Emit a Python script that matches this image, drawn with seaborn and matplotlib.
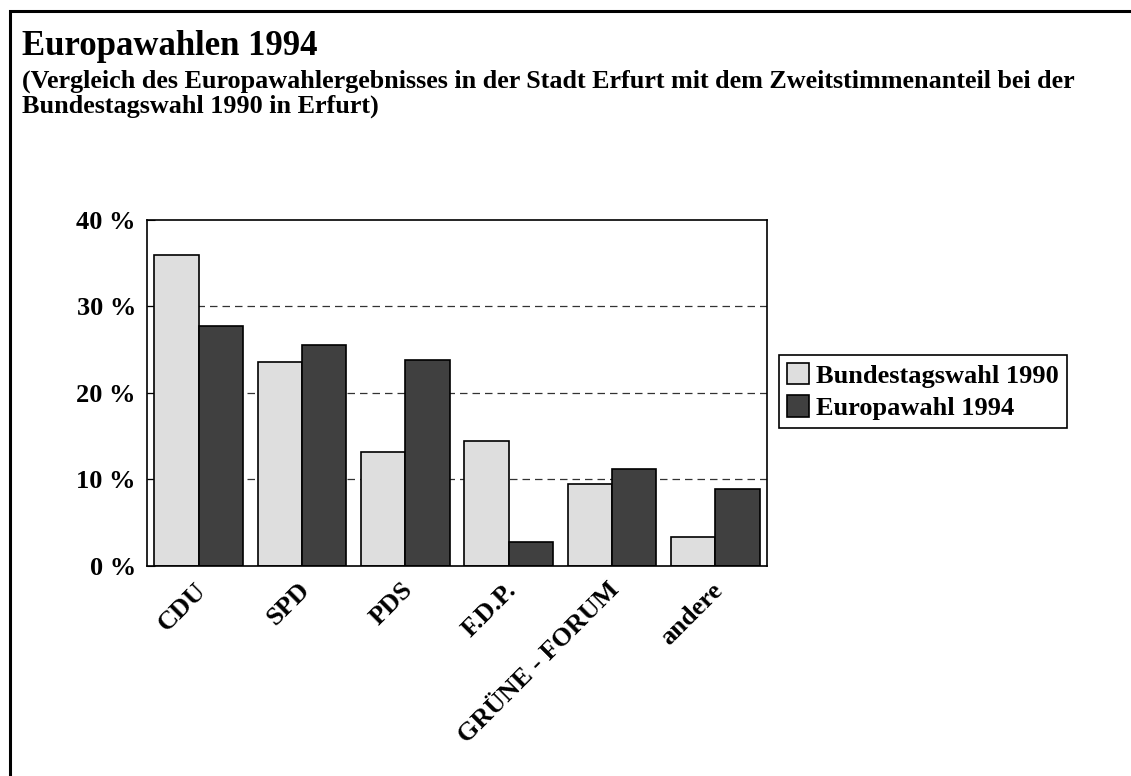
import seaborn as sns
import pandas as pd
import numpy as np
import matplotlib.pyplot as plt
import matplotlib.transforms as mtransforms
from matplotlib.patches import Rectangle

parteien = ["CDU", "SPD", "PDS", "F.D.P.", "GRÜNE - FORUM", "andere"]
bundestagswahl_1990 = [36.0, 23.6, 13.2, 14.4, 9.5, 3.3]
europawahl_1994 = [27.7, 25.6, 23.8, 2.8, 11.2, 8.9]
serien = ["Bundestagswahl 1990", "Europawahl 1994"]
y_ticks = [0, 10, 20, 30, 40]

df = pd.DataFrame({
    "partei": parteien * 2,
    "wert": bundestagswahl_1990 + europawahl_1994,
    "wahl": [serien[0]] * len(parteien) + [serien[1]] * len(parteien),
})

sns.set_style("white")
plt.rcParams['font.family'] = ['Liberation Serif', 'DejaVu Serif']
plt.rcParams['font.weight'] = 'bold'
plt.rcParams['text.color'] = 'black'
plt.rcParams['xtick.color'] = 'black'
plt.rcParams['ytick.color'] = 'black'

fig = plt.figure(figsize=(11.31, 7.76), dpi=100)
ax = fig.add_axes([147 / 1131, 1 - 566 / 776, 620 / 1131, 346 / 776])

farben = {serien[0]: "#dedede", serien[1]: "#404040"}
sns.barplot(data=df, x="partei", y="wert", hue="wahl", palette=farben,
            width=0.86, edgecolor="black", linewidth=1.2, ax=ax, saturation=1)

ax.set_xlim(-0.5, 5.5)
ax.set_ylim(0, 40)
ax.set_yticks(y_ticks)
ax.set_yticklabels([f"{t} %" for t in y_ticks], fontsize=19, fontweight="bold")
ax.tick_params(axis="y", direction="in", length=6, pad=8, left=True)
ax.tick_params(axis="x", length=0, pad=9)
ax.set_xticks(range(len(parteien)))
ax.set_xticklabels(parteien, rotation=45, ha="right", rotation_mode="anchor",
                   fontsize=19, fontweight="bold")
# etwas nach links schieben wie im Original
verschiebung = mtransforms.ScaledTranslation(-4 / 100, 0, fig.dpi_scale_trans)
for lbl in ax.get_xticklabels():
    lbl.set_transform(lbl.get_transform() + verschiebung)
ax.set_xlabel("")
ax.set_ylabel("")
for y in [10, 20, 30]:
    ax.axhline(y, color="#333333", linestyle=(0, (6, 4)), linewidth=0.9, zorder=0)
for s in ax.spines.values():
    s.set_visible(True)
    s.set_color("black")
    s.set_linewidth(1.2)

handles, labels = ax.get_legend_handles_labels()
ax.legend(handles, labels, loc="upper left", bbox_to_anchor=(779 / 1131, 1 - 355 / 776),
          bbox_transform=fig.transFigure, frameon=True, fancybox=False,
          edgecolor="black", framealpha=1, handlelength=0.85, handleheight=0.85,
          handletextpad=0.25, borderpad=0.3, labelspacing=0.3, borderaxespad=0,
          prop={"weight": "bold", "size": 19})
ax.get_legend().get_frame().set_linewidth(1.2)

fig.text(22 / 1131, 1 - 55 / 776, "Europawahlen 1994", fontsize=25, fontweight="bold",
         va="baseline")
fig.text(22 / 1131, 1 - 88 / 776,
         "(Vergleich des Europawahlergebnisses in der Stadt Erfurt mit dem Zweitstimmenanteil bei der",
         fontsize=18.8, fontweight="bold", va="baseline")
fig.text(22 / 1131, 1 - 113 / 776, "Bundestagswahl 1990 in Erfurt)", fontsize=18.8,
         fontweight="bold", va="baseline")

fig.patches.append(Rectangle((10 / 1131, -0.1), 1.2, 1.1 - 11 / 776,
                             transform=fig.transFigure, fill=False, edgecolor="black",
                             linewidth=2.2))

fig.savefig("out.png", dpi=100)
